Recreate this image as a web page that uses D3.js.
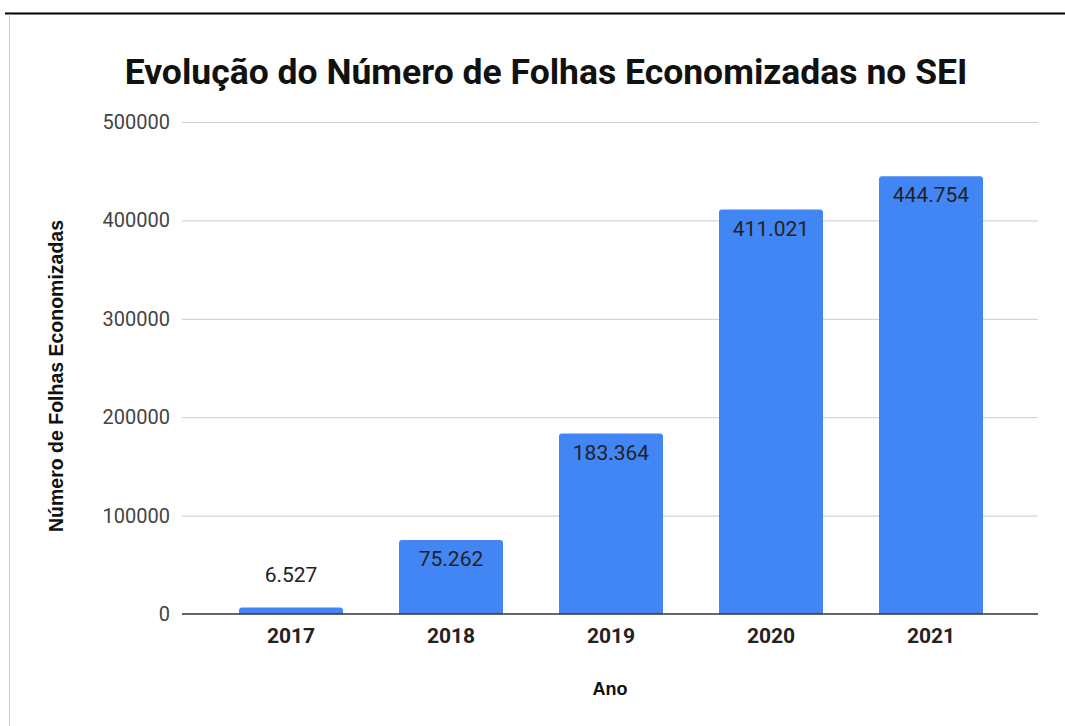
<!DOCTYPE html>
<html lang="en">
<head>
<meta charset="UTF-8">
<title>Folhas Economizadas</title>
<style>
  body { margin: 0; background: #fff; }
  text { font-family: Roboto, "Noto Sans", sans-serif; }
  text.arial { font-family: "Liberation Sans", Arial, sans-serif; }
</style>
</head>
<body>
<script src="https://d3js.org/d3.v7.min.js"></script>
<script>
    // data
    const years = ["2017", "2018", "2019", "2020", "2021"];
    const folhas = [6527, 75262, 183364, 411021, 444754];
    const yTicks = [0, 100000, 200000, 300000, 400000, 500000];

    const W = 1065, H = 726;

    const svg = d3.select("body").append("svg")
        .attr("width", W)
        .attr("height", H);

    // page frame (top rule + left border)
    svg.append("line")
        .attr("x1", 5).attr("x2", W).attr("y1", 13.5).attr("y2", 13.5)
        .attr("stroke", "#000").attr("stroke-width", 2);
    svg.append("line")
        .attr("x1", 9.5).attr("x2", 9.5).attr("y1", 14).attr("y2", H)
        .attr("stroke", "#ccc").attr("stroke-width", 1);

    // scales
    const x = d3.scaleBand()
        .domain(years)
        .range([211, 1011])
        .paddingInner(0.35)
        .paddingOuter(0.175);

    const y = d3.scaleLinear()
        .domain([0, 500000])
        .range([614, 122]);

    const gridLeft = 182, gridRight = 1038;

    // gridlines
    svg.append("g")
        .selectAll("line")
        .data(yTicks.filter(d => d > 0))
        .enter().append("line")
        .attr("x1", gridLeft).attr("x2", gridRight)
        .attr("y1", d => y(d) + 0.5).attr("y2", d => y(d) + 0.5)
        .attr("stroke", "#ccc");

    // y axis labels
    const yAxis = svg.append("g")
        .attr("transform", `translate(${gridLeft},0)`)
        .call(d3.axisLeft(y).tickValues(yTicks).tickSize(0).tickPadding(12).tickFormat(d3.format("d")));
    yAxis.select(".domain").remove();
    yAxis.selectAll("text")
        .attr("font-size", 20)
        .attr("fill", "#444");

    // bars
    const r = 3;
    function barPath(x0, w, top, bottom) {
        const h = bottom - top;
        const rr = Math.min(r, h / 2, w / 2);
        return `M${x0},${bottom} V${top + rr} Q${x0},${top} ${x0 + rr},${top} H${x0 + w - rr} Q${x0 + w},${top} ${x0 + w},${top + rr} V${bottom} Z`;
    }
    svg.append("g")
        .selectAll("path")
        .data(years)
        .enter().append("path")
        .attr("d", (d, i) => barPath(x(d), x.bandwidth(), y(folhas[i]), y(0)))
        .attr("fill", "#4285f4");

    // baseline
    svg.append("line")
        .attr("x1", gridLeft).attr("x2", gridRight)
        .attr("y1", y(0)).attr("y2", y(0))
        .attr("stroke", "#333").attr("stroke-width", 1.5);

    // value labels
    const fmt = d3.formatLocale({ decimal: ",", thousands: ".", grouping: [3], currency: ["", ""] }).format(",d");
    svg.append("g")
        .selectAll("text")
        .data(years)
        .enter().append("text")
        .attr("x", d => x(d) + x.bandwidth() / 2)
        .attr("y", (d, i) => {
            const top = y(folhas[i]);
            return (y(0) - top) > 40 ? top + 26 : top - 26;
        })
        .attr("text-anchor", "middle")
        .attr("font-size", 21)
        .attr("fill", "#222")
        .text((d, i) => fmt(folhas[i]));

    // x axis labels
    const xAxis = svg.append("g")
        .attr("transform", `translate(0,${y(0)})`)
        .call(d3.axisBottom(x).tickSize(0).tickPadding(0));
    xAxis.select(".domain").remove();
    xAxis.selectAll("text")
        .attr("y", 29)
        .attr("dy", null)
        .attr("font-size", 21)
        .attr("font-weight", "bold")
        .attr("fill", "#222");

    // title
    svg.append("text")
        .attr("x", 546).attr("y", 84)
        .attr("text-anchor", "middle")
        .attr("font-size", 35.5)
        .attr("font-weight", "bold")
        .attr("fill", "#111")
        .text("Evolução do Número de Folhas Economizadas no SEI");

    // axis titles
    svg.append("text")
        .attr("class", "arial")
        .attr("x", 610).attr("y", 695)
        .attr("text-anchor", "middle")
        .attr("font-size", 18)
        .attr("font-weight", "bold")
        .attr("fill", "#111")
        .text("Ano");

    svg.append("text")
        .attr("class", "arial")
        .attr("transform", "translate(63,376) rotate(-90)")
        .attr("text-anchor", "middle")
        .attr("font-size", 19.5)
        .attr("font-weight", "bold")
        .attr("fill", "#111")
        .text("Número de Folhas Economizadas");
</script>
</body>
</html>
